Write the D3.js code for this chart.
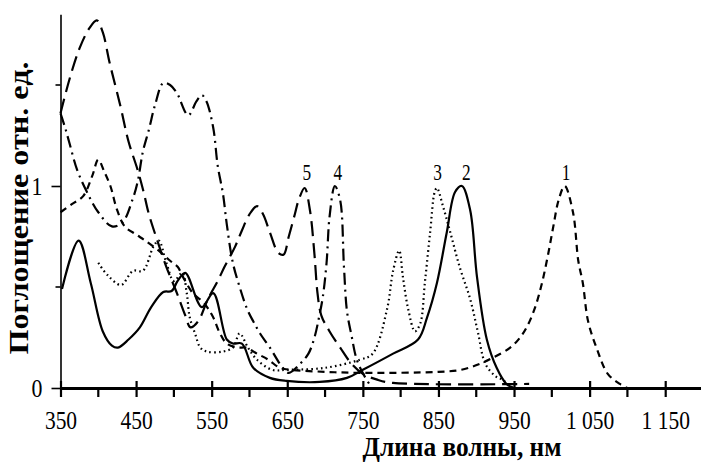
<!DOCTYPE html>
<meta charset="utf-8">
<style>
body { margin: 0; background: #fff; }
svg { display: block; }
.curve { fill: none; stroke: #000; stroke-width: 2.2px; }
text { font-family: "Liberation Serif", "Times New Roman", serif; fill: #000; }
.title { font-weight: bold; }
</style>
<svg width="701" height="465"></svg>
<script src="https://d3js.org/d3.v7.min.js"></script>
<script>

// curve 1 - short dashes
var wl1  = [350, 365, 380, 392, 400, 408, 416, 425, 435, 450, 462, 480, 495, 505, 512, 525, 540, 552, 561, 570, 585, 595, 610, 625, 640, 655, 700, 750, 850, 880, 905, 922, 945, 958, 968, 978, 987, 995, 1002, 1009, 1017, 1028, 1035, 1041, 1048, 1060, 1074, 1090, 1100];
var abs1 = [0.87, 0.91, 0.95, 1.05, 1.13, 1.07, 1.0, 0.88, 0.80, 0.76, 0.73, 0.68, 0.63, 0.60, 0.55, 0.47, 0.42, 0.35, 0.27, 0.22, 0.20, 0.20, 0.17, 0.14, 0.10, 0.09, 0.08, 0.075, 0.08, 0.09, 0.12, 0.15, 0.20, 0.25, 0.31, 0.40, 0.52, 0.66, 0.80, 0.93, 1.0, 0.87, 0.63, 0.52, 0.33, 0.19, 0.07, 0.02, 0];

// curve 2 - solid
var wl2  = [352, 374, 390, 406, 418, 426, 440, 455, 470, 486, 497, 505, 515, 537, 552, 570, 578, 590, 605, 627, 649, 693, 729, 750, 790, 823, 835, 848, 861, 872, 881, 892, 901, 914, 927, 940, 950];
var abs2 = [0.49, 0.73, 0.52, 0.28, 0.21, 0.20, 0.24, 0.30, 0.40, 0.475, 0.48, 0.53, 0.57, 0.40, 0.47, 0.24, 0.22, 0.22, 0.10, 0.05, 0.035, 0.03, 0.05, 0.09, 0.17, 0.24, 0.35, 0.52, 0.77, 0.97, 1.0, 0.88, 0.55, 0.24, 0.10, 0.02, 0];

// curve 3 - dotted
var wl3  = [400, 412, 430, 446, 459, 473, 480, 490, 500, 511, 517, 521, 528, 535, 544, 564, 578, 587, 598, 610, 630, 650, 700, 746, 763, 782, 790, 798, 803, 810, 819, 826, 832, 839, 845, 848, 856, 865, 878, 892, 902, 912, 925, 935, 948];
var abs3 = [0.62, 0.56, 0.51, 0.58, 0.58, 0.70, 0.73, 0.62, 0.53, 0.57, 0.47, 0.35, 0.27, 0.20, 0.18, 0.18, 0.20, 0.27, 0.20, 0.14, 0.09, 0.09, 0.10, 0.14, 0.17, 0.39, 0.58, 0.68, 0.55, 0.39, 0.28, 0.32, 0.52, 0.77, 0.97, 0.99, 0.90, 0.78, 0.60, 0.44, 0.28, 0.12, 0.06, 0.04, 0];

// curve 4 - dash-dot
var wl4  = [350, 356, 362, 372, 385, 400, 418, 432, 445, 452, 459, 467, 475, 486, 495, 504, 519, 530, 537, 543, 552, 558, 565, 570, 578, 587, 597, 605, 614, 627, 644, 652, 667, 678, 686, 692, 697, 702, 706, 713, 720, 725, 729, 735, 742, 752, 762];
var abs4 = [1.36, 1.29, 1.21, 1.08, 0.97, 0.87, 0.80, 0.82, 0.93, 1.02, 1.17, 1.28, 1.40, 1.51, 1.50, 1.46, 1.35, 1.42, 1.45, 1.42, 1.29, 1.10, 0.96, 0.81, 0.62, 0.50, 0.39, 0.33, 0.27, 0.20, 0.10, 0.075, 0.12, 0.17, 0.25, 0.35, 0.45, 0.62, 0.85, 1.0, 0.93, 0.60, 0.38, 0.26, 0.14, 0.06, 0];

// curve 5 - long dashes
var wl5  = [350, 362, 375, 388, 398, 406, 415, 429, 440, 452, 460, 467, 479, 490, 504, 515, 522, 532, 545, 558, 567, 581, 590, 600, 610, 618, 627, 638, 645, 652, 660, 665, 673, 680, 686, 690, 695, 706, 720, 735, 750, 770, 790, 970];
var abs5 = [1.36, 1.53, 1.68, 1.78, 1.82, 1.76, 1.61, 1.40, 1.22, 1.08, 0.97, 0.86, 0.72, 0.60, 0.47, 0.36, 0.30, 0.33, 0.44, 0.53, 0.60, 0.70, 0.78, 0.86, 0.90, 0.86, 0.77, 0.67, 0.66, 0.75, 0.86, 0.93, 0.99, 0.88, 0.66, 0.47, 0.36, 0.28, 0.20, 0.12, 0.07, 0.04, 0.025, 0.02];

var curveNames = ["1", "2", "3", "4", "5"];
var labelWl = [1019, 887, 849, 717, 676];
var xTicks = [350, 450, 550, 650, 750, 850, 950, 1050, 1150];
var xMinor = [400, 500, 600, 700, 800, 900, 1000, 1100];
var yTicks = [0, 1];
var yMinor = [0.5, 1.5];

var series = [
  {wl: wl1, v: abs1, dash: "7,5"},
  {wl: wl2, v: abs2, dash: null},
  {wl: wl3, v: abs3, dash: "1.6,3.2"},
  {wl: wl4, v: abs4, dash: "12,5,2,5"},
  {wl: wl5, v: abs5, dash: "15,7"}
];

var svg = d3.select("svg");

var x = d3.scaleLinear().domain([350, 1200]).range([60.5, 703]);
var y = d3.scaleLinear().domain([0, 1.85]).range([388, 14.3]);

var ru = d3.formatLocale({decimal: ",", thousands: " ", grouping: [3], currency: ["", ""]});
var fmt = ru.format(",");

// y axis
var yAxis = svg.append("g")
    .attr("transform", "translate(" + x(350) + ",0)")
    .call(d3.axisLeft(y).tickValues(yTicks).tickSize(9).tickSizeOuter(0).tickFormat(d3.format("d")));
yAxis.select(".domain").attr("stroke-width", 1.6);
yAxis.selectAll(".tick line").attr("stroke-width", 1.6);
yAxis.selectAll(".tick text")
    .attr("x", -21.5).attr("dy", "0.34em")
    .attr("font-size", 26)
    .style("font-family", "'Liberation Serif', serif")
    .attr("transform", "scale(0.84,1)");
yAxis.selectAll(".minor").data(yMinor).enter().append("line")
    .attr("class", "minor")
    .attr("x1", -5).attr("x2", 0)
    .attr("y1", function(d) { return y(d); })
    .attr("y2", function(d) { return y(d); })
    .attr("stroke", "#000").attr("stroke-width", 1.6);

// x axis
var xAxis = svg.append("g")
    .attr("transform", "translate(0," + y(0) + ")")
    .call(d3.axisBottom(x).tickValues(xTicks).tickSize(9).tickSizeOuter(0).tickFormat(fmt));
xAxis.select(".domain").attr("stroke-width", 3.2);
xAxis.selectAll(".tick line").attr("y1", -7).attr("y2", 9).attr("stroke-width", 2.2);
xAxis.selectAll(".tick text")
    .attr("y", 41).attr("dy", null)
    .attr("font-size", 25)
    .style("font-family", "'Liberation Serif', serif")
    .attr("transform", "scale(0.86,1)");
xAxis.selectAll(".minor").data(xMinor).enter().append("line")
    .attr("class", "minor")
    .attr("x1", function(d) { return x(d); })
    .attr("x2", function(d) { return x(d); })
    .attr("y1", 0).attr("y2", 9)
    .attr("stroke", "#000").attr("stroke-width", 2.2);

// curves
var line = d3.line()
    .x(function(d) { return x(d[0]); })
    .y(function(d) { return y(d[1]); })
    .curve(d3.curveCatmullRom.alpha(0.5));

svg.append("g").selectAll("path")
    .data(series)
    .enter().append("path")
    .attr("class", "curve")
    .attr("d", function(s) { return line(d3.zip(s.wl, s.v)); })
    .attr("stroke-dasharray", function(s) { return s.dash; });

// curve numbers
svg.append("g").selectAll("text")
    .data(curveNames)
    .enter().append("text")
    .attr("text-anchor", "middle")
    .attr("font-size", 24)
    .attr("transform", function(d, i) {
      return "translate(" + x(labelWl[i]) + "," + y(1.03) + ") scale(0.72,1)";
    })
    .text(function(d) { return d; });

// titles
svg.append("text")
    .attr("class", "title")
    .attr("text-anchor", "middle")
    .attr("font-size", 27)
    .attr("textLength", 199)
    .attr("lengthAdjust", "spacingAndGlyphs")
    .attr("x", 462).attr("y", 456)
    .text("Длина волны, нм");

svg.append("text")
    .attr("class", "title")
    .attr("text-anchor", "middle")
    .attr("font-size", 28)
    .attr("textLength", 293)
    .attr("lengthAdjust", "spacingAndGlyphs")
    .attr("transform", "translate(28,208) rotate(-90)")
    .text("Поглощение отн. ед.");

</script>
